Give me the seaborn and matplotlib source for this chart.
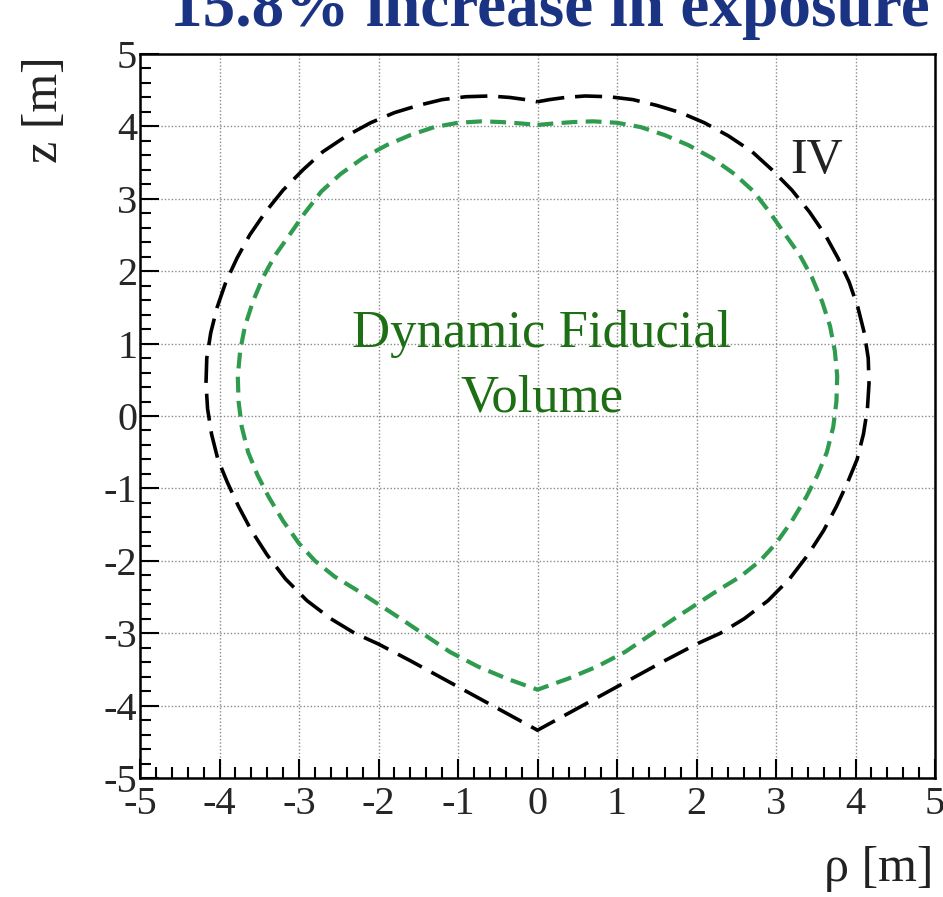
import matplotlib
matplotlib.use("Agg")
import matplotlib.pyplot as plt
import seaborn as sns
import pandas as pd
from matplotlib.ticker import MultipleLocator

# Inner vessel (IV) profile for rho >= 0, traced from the top pole down to the bottom pole
iv_rho = [0.00, 0.15, 0.35, 0.60, 0.90, 1.20, 1.50, 1.80, 2.10, 2.40, 2.70, 2.95, 3.20,
          3.42, 3.62, 3.78, 3.92, 4.03, 4.11, 4.16, 4.17, 4.15, 4.10, 4.02, 3.90, 3.76,
          3.60, 3.40, 3.17, 2.90, 2.60, 2.30, 2.00, 1.60, 1.20, 0.80, 0.40, 0.00]
iv_z = [4.34, 4.37, 4.40, 4.42, 4.41, 4.37, 4.29, 4.19, 4.05, 3.87, 3.65, 3.40, 3.12,
        2.82, 2.50, 2.18, 1.85, 1.50, 1.15, 0.80, 0.45, 0.10, -0.25, -0.60, -0.92, -1.25,
        -1.58, -1.92, -2.25, -2.55, -2.80, -3.00, -3.15, -3.38, -3.62, -3.86, -4.10, -4.34]

# Dynamic fiducial volume profile for rho >= 0
dfv_rho = [0.00, 0.20, 0.45, 0.70, 1.00, 1.30, 1.60, 1.90, 2.20, 2.48, 2.72, 2.93, 3.12,
           3.30, 3.45, 3.58, 3.68, 3.74, 3.77, 3.76, 3.72, 3.64, 3.52, 3.38, 3.20, 3.00,
           2.80, 2.55, 2.28, 2.00, 1.72, 1.45, 1.10, 0.75, 0.38, 0.00]
dfv_z = [4.02, 4.04, 4.06, 4.07, 4.05, 3.99, 3.88, 3.74, 3.56, 3.34, 3.10, 2.80, 2.50,
         2.22, 1.92, 1.58, 1.24, 0.90, 0.55, 0.20, -0.15, -0.50, -0.82, -1.12, -1.45, -1.76,
         -2.00, -2.22, -2.40, -2.60, -2.80, -3.00, -3.26, -3.46, -3.63, -3.78]

x_ticks = [-5, -4, -3, -2, -1, 0, 1, 2, 3, 4, 5]
y_ticks = [-5, -4, -3, -2, -1, 0, 1, 2, 3, 4, 5]


def closed_profile(rho, z):
    # the detector is axially symmetric: show the profile at +rho and -rho
    full_rho = list(rho) + [-r for r in reversed(rho)]
    full_z = list(z) + list(reversed(z))
    return pd.DataFrame({"rho": full_rho, "z": full_z})


sns.set_theme(style="white")
plt.rcParams["font.family"] = ["Liberation Serif", "DejaVu Serif"]
plt.rcParams["axes.unicode_minus"] = False

fig = plt.figure(figsize=(9.43, 8.97), dpi=100)
ax = fig.add_axes([140 / 943, 1 - 778 / 897, 795 / 943, 724 / 897])

sns.lineplot(data=closed_profile(iv_rho, iv_z), x="rho", y="z", sort=False,
             estimator=None, ax=ax, color="black", linewidth=2.6)
sns.lineplot(data=closed_profile(dfv_rho, dfv_z), x="rho", y="z", sort=False,
             estimator=None, ax=ax, color="#2f9b4e", linewidth=3.0)
ax.lines[0].set_dashes((7.5, 3.0))
ax.lines[1].set_dashes((3.8, 2.0))

ax.set_xlim(-5, 5)
ax.set_ylim(-5, 5)
ax.set_xticks(x_ticks)
ax.set_yticks(y_ticks)
ax.set_xticklabels([str(t) for t in x_ticks])
ax.set_yticklabels([str(t) for t in y_ticks])
ax.xaxis.set_minor_locator(MultipleLocator(0.2))
ax.yaxis.set_minor_locator(MultipleLocator(0.2))
ax.tick_params(which="both", direction="in", top=False, right=False,
               left=True, bottom=True, color="black", width=1.5)
ax.tick_params(which="major", length=14)
ax.tick_params(which="minor", length=8)
ax.tick_params(axis="x", which="major", labelsize=29, pad=6)
ax.tick_params(axis="y", which="major", labelsize=29, pad=2)
ax.grid(True, which="major", linestyle=(0, (1, 1.5)), color="#8a8a8a", linewidth=1.0)
for s in ax.spines.values():
    s.set_color("black")
    s.set_linewidth(1.8)
ax.set_xlabel("")
ax.set_ylabel("")

ax.text(0.05, 0.06, "Dynamic Fiducial\nVolume", ha="center", va="baseline",
        fontsize=38, color="#1d6e15", linespacing=1.45)
ax.text(3.18, 3.36, "IV", ha="left", va="baseline", fontsize=36, color="#222222")

fig.text(45 / 943, 1 - 110 / 897, "z [m]", rotation=90, ha="center", va="center",
         fontsize=36, color="#222222")
fig.text(933 / 943, 1 - 881 / 897, "ρ [m]", ha="right", va="baseline",
         fontsize=36, color="#222222")
fig.text(170 / 943, 1 - 26 / 897, "15.8% increase in exposure", ha="left",
         va="baseline", fontsize=47, fontweight="bold", color="#1a3383")

fig.savefig("out.png", dpi=100)
